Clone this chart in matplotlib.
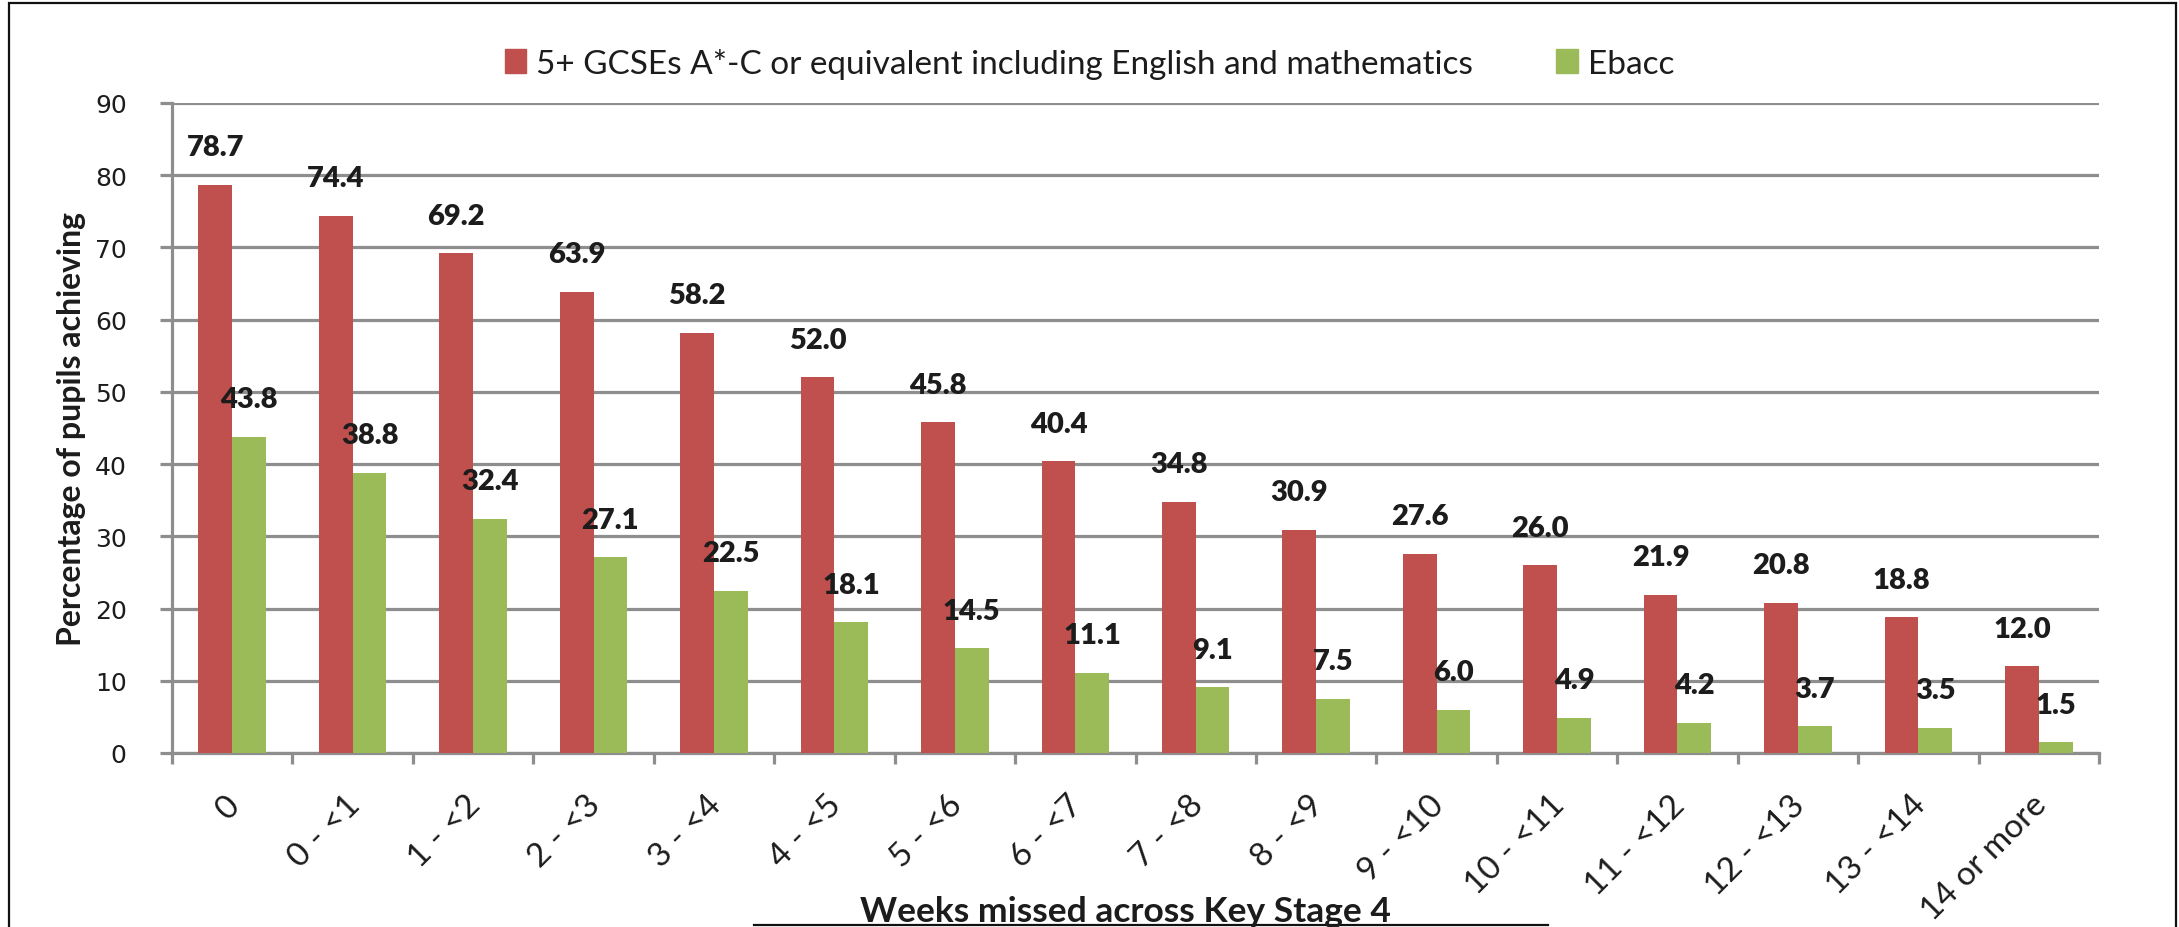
import numpy as np
import matplotlib
matplotlib.use("Agg")
import matplotlib.pyplot as plt
import matplotlib.transforms as mtransforms
from matplotlib.lines import Line2D
from matplotlib.patches import Patch, Rectangle

weeks = ["0", "0 - <1", "1 - <2", "2 - <3", "3 - <4", "4 - <5", "5 - <6", "6 - <7",
         "7 - <8", "8 - <9", "9 - <10", "10 - <11", "11 - <12", "12 - <13", "13 - <14",
         "14 or more"]
gcse = [78.7, 74.4, 69.2, 63.9, 58.2, 52.0, 45.8, 40.4, 34.8, 30.9, 27.6, 26.0, 21.9, 20.8, 18.8, 12.0]
ebacc = [43.8, 38.8, 32.4, 27.1, 22.5, 18.1, 14.5, 11.1, 9.1, 7.5, 6.0, 4.9, 4.2, 3.7, 3.5, 1.5]
series_names = ["5+ GCSEs A*-C or equivalent including English and mathematics", "Ebacc"]

RED = "#C0504D"
GREEN = "#9BBB59"
GRID = "#8E8E8E"
TXT = "#1c1c1c"

W, H, DPI = 2179, 928, 100
fig = plt.figure(figsize=(W / DPI, H / DPI), dpi=DPI)
ax = fig.add_axes([172 / W, 1 - 754 / H, (2099 - 172) / W, (754 - 104) / H])

x = np.arange(len(weeks))
bw = 0.28
ax.bar(x - bw / 2, gcse, bw, color=RED, zorder=3)
ax.bar(x + bw / 2, ebacc, bw, color=GREEN, zorder=3)

# value labels sit a fixed step above each bar
for xi, v in zip(x - bw / 2, gcse):
    ax.text(xi, v + 5.2, f"{v:.1f}", ha="center", va="center", fontsize=21,
            fontweight="heavy", family="Lato", color=TXT, zorder=4)
for xi, v in zip(x + bw / 2, ebacc):
    ax.text(xi, v + 5.2, f"{v:.1f}", ha="center", va="center", fontsize=21,
            fontweight="heavy", family="Lato", color=TXT, zorder=4)

ax.set_xlim(-0.5, len(weeks) - 0.5)
ax.set_ylim(0, 90)
ax.set_yticks(np.arange(0, 91, 10))
ax.yaxis.grid(True, color=GRID, lw=2.3, zorder=0)
ax.set_axisbelow(True)
for s in ["top", "right"]:
    ax.spines[s].set_visible(False)
for s in ["left", "bottom"]:
    ax.spines[s].set_color(GRID)
    ax.spines[s].set_linewidth(2.3)

ax.tick_params(axis="y", length=8.6, width=2.3, color=GRID, pad=24,
               labelsize=18, labelcolor=TXT)
for lab in ax.get_yticklabels():
    lab.set_family("DejaVu Sans")

# category labels at centres, tick marks at boundaries
ax.set_xticks(x)
ax.set_xticklabels(weeks, rotation=45, ha="right", va="top",
                   rotation_mode="anchor", fontsize=24, family="Lato", color=TXT)
ax.tick_params(axis="x", which="major", length=0, pad=26)
ax.set_xticks(np.arange(-0.5, len(weeks)), minor=True)
ax.tick_params(axis="x", which="minor", length=8, width=2.3, color=GRID)
shift = mtransforms.ScaledTranslation(-8 / DPI, 0, fig.dpi_scale_trans)
for lab in ax.get_xticklabels():
    lab.set_transform(lab.get_transform() + shift)

ax.set_ylabel("Percentage of pupils achieving", fontsize=23, fontweight="bold",
              family="Lato", color=TXT)
ax.yaxis.set_label_coords(-(172 - 86) / (2099 - 172), 0.5)

fig.text(1125 / W, 1 - 922 / H, "Weeks missed across Key Stage 4", ha="center",
         va="baseline", fontsize=25.5, fontweight="bold", family="Lato", color=TXT)

handles = [Patch(color=RED), Patch(color=GREEN)]
fig.legend(handles, series_names, loc="center", bbox_to_anchor=(0.5, 1 - 64 / H),
           ncol=2, frameon=False, prop={"family": "Lato", "size": 24},
           handlelength=0.65, handleheight=0.7, handletextpad=0.3,
           columnspacing=2.5, labelcolor=TXT)

# outer frame and the box edge peeking in at the bottom
fig.add_artist(Rectangle((9 / W, -0.05), (2176 - 9) / W, 1.05 - 4 / H,
                         transform=fig.transFigure, fill=False, ec="#111111", lw=1.6))
fig.add_artist(Line2D([754 / W, 1548 / W], [1 - 926 / H] * 2,
                      transform=fig.transFigure, color="#111111", lw=1.6))

fig.savefig("out.png", dpi=DPI)
